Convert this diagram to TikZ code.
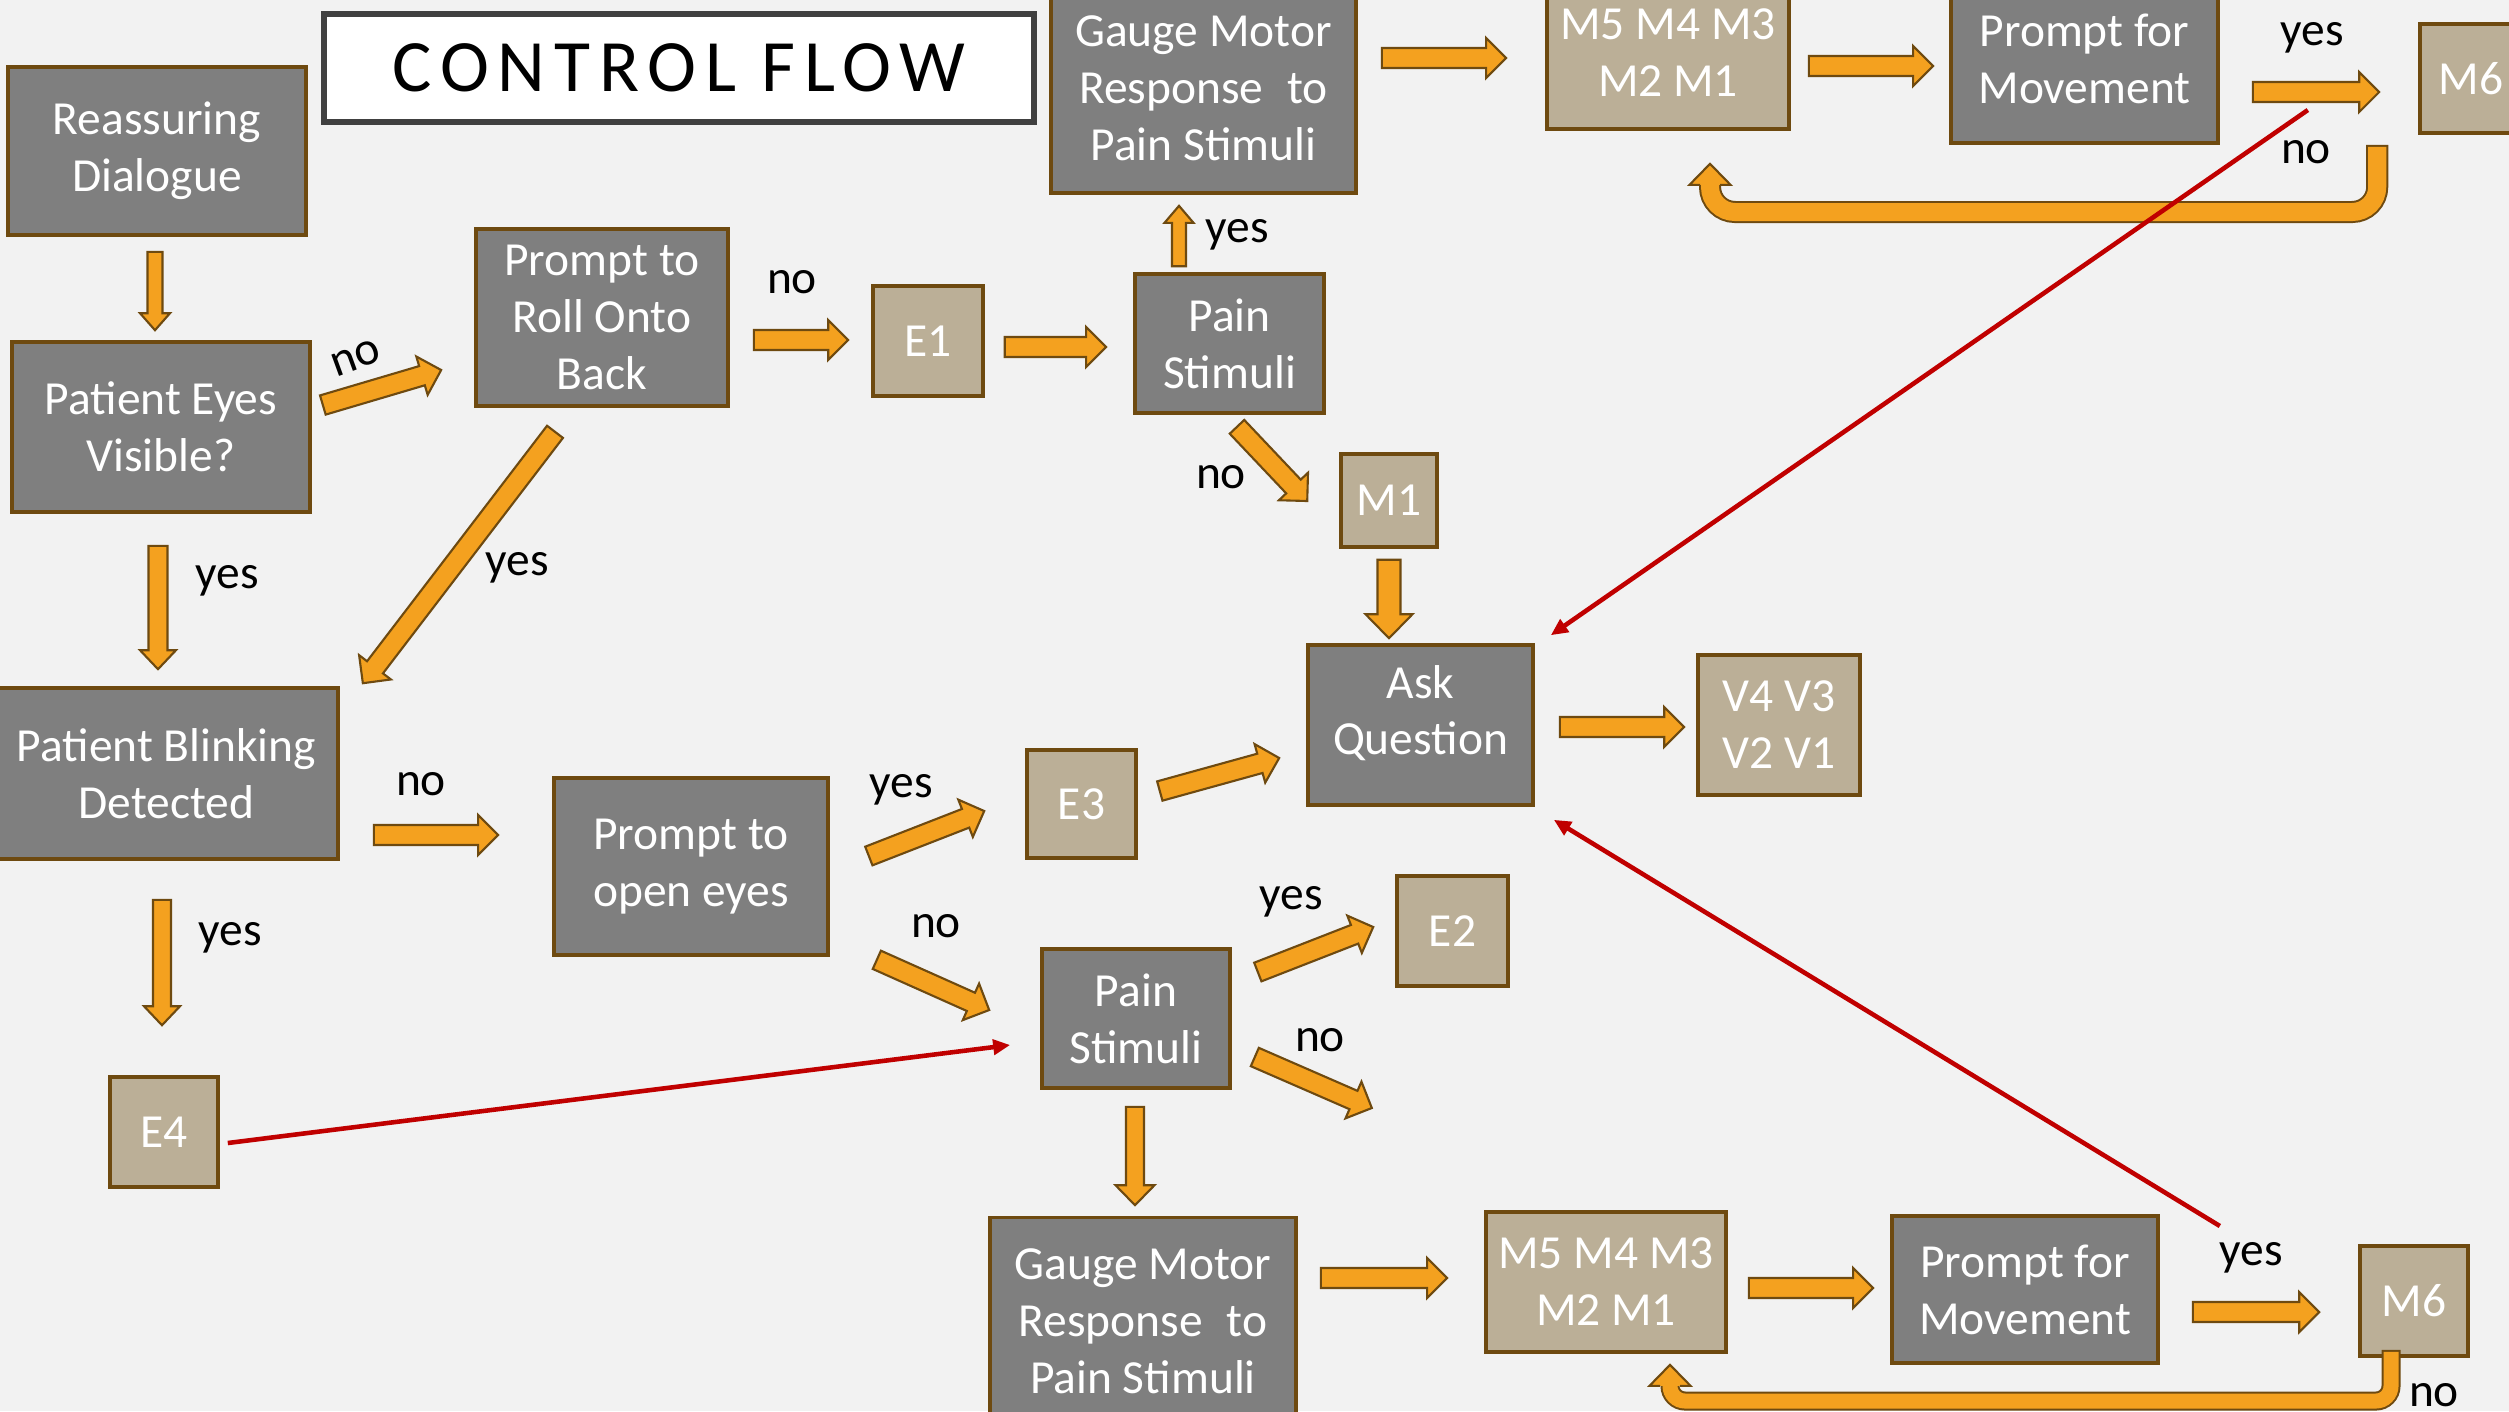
\documentclass[tikz,border=0pt]{standalone}
\usepackage{fontspec}
\setmainfont{Carlito}
\usetikzlibrary{calc,arrows.meta}
\definecolor{bg}{HTML}{F2F2F2}
\definecolor{darkbox}{HTML}{7F7F7F}
\definecolor{tanbox}{HTML}{BBAF97}
\definecolor{boxline}{HTML}{6E4A10}
\definecolor{arrfill}{HTML}{F4A11F}
\definecolor{arrline}{HTML}{6E4A10}
\definecolor{redline}{HTML}{C00000}
\definecolor{titleline}{HTML}{404040}
\tikzset{
 box/.style={draw=boxline, line width=1pt, inner sep=0pt, align=center, text=white, font=\fontsize{13.5}{16.2}\selectfont},
 dbox/.style={box, fill=darkbox},
 tbox/.style={box, fill=tanbox},
 lbl/.style={font=\fontsize{13.5}{16}\selectfont, text=black, inner sep=0pt},
 blockarrow/.style={fill=arrfill, draw=arrline, line width=0.6pt, line join=miter},
 redarrow/.style={draw=redline, line width=1.3pt, -{Triangle[length=0.17cm,width=0.15cm]}},
}
\newcommand\barrow[5]{%
 \coordinate (bas) at (#1);
 \coordinate (bae) at (#2);
 \coordinate (bah) at ($(bae)!#5!(bas)$);
 \filldraw[blockarrow] ($(bas)!#3!90:(bae)$) -- ($(bah)!#3!-90:(bas)$) -- ($(bah)!#4!-90:(bas)$) -- (bae) -- ($(bah)!#4!90:(bas)$) -- ($(bah)!#3!90:(bas)$) -- ($(bas)!#3!-90:(bae)$) -- cycle;
}
\newcommand\barr[2]{\barrow{#1}{#2}{0.1cm}{0.2cm}{0.2cm}}
% #1 start, #2 tip, #3 level, #4 inner width, #5 outer width, #6 radius
\newcommand\uturn[6]{%
 \coordinate (us) at (#1); \coordinate (ut) at (#2); \coordinate (ul) at (#3);
 \coordinate (ub) at ([shift={(0,21)}]ut);
 \coordinate (ue) at ([shift={(0,16)}]ut);
 \draw[arrline, line width=#5, rounded corners=#6] (us) -- (us |- ul) -- (ut |- ul) -- (ue);
 \draw[arrfill, line width=#4, rounded corners=#6, shorten <=0.02cm] (us) -- (us |- ul) -- (ut |- ul) -- (ue);
 \fill[arrfill] ([shift={(-20.5,0)}]ub) -- (ut) -- ([shift={(20.5,0)}]ub) -- cycle;
 \draw[arrline, line width=0.6pt, line join=miter] ([shift={(-10,0)}]ub) -- ([shift={(-20.5,0)}]ub) -- (ut) -- ([shift={(20.5,0)}]ub) -- ([shift={(10,0)}]ub);
}
\begin{document}
\begin{tikzpicture}[x=0.01cm,y=-0.01cm]
\path[use as bounding box] (0,0) rectangle (2509,1411);
\clip (0,0) rectangle (2509,1411);
\fill[bg] (0,0) rectangle (2509,1411);

% title
\node[draw=titleline, line width=1.7pt, fill=white, minimum width=7.1cm, minimum height=1.08cm, inner sep=0pt,
      font=\fontsize{21}{25}\selectfont\addfontfeature{LetterSpace=12}] (title) at (679,68) {CONTROL FLOW};

% boxes
\node[dbox, minimum width=2.98cm, minimum height=1.68cm] (reass) at (157,151) {Reassuring\\Dialogue};
\node[dbox, minimum width=2.98cm, minimum height=1.70cm] (eyes) at (161,427) {Patient Eyes\\Visible?};
\node[dbox, minimum width=2.52cm, minimum height=1.77cm] (roll) at (602,317.5) {Prompt to\\Roll Onto\\Back};
\node[tbox, minimum width=1.10cm, minimum height=1.10cm] (e1) at (928,341) {E1};
\node[dbox, minimum width=3.05cm, minimum height=2.10cm] (gaugeT) at (1203.5,88) {Gauge Motor\\Response\enspace to\\Pain Stimuli};
\node[tbox, minimum width=2.42cm, minimum height=1.52cm] (m5T) at (1668,53) {M5 M4 M3\\M2 M1};
\node[dbox, minimum width=2.67cm, minimum height=1.68cm] (promptT) at (2084.5,59) {Prompt for\\Movement};
\node[tbox, minimum width=1.02cm, minimum height=1.09cm] (m6T) at (2471,78.5) {M6};
\node[dbox, minimum width=1.89cm, minimum height=1.39cm] (painT) at (1229.5,343.5) {Pain\\Stimuli};
\node[tbox, minimum width=0.96cm, minimum height=0.93cm] (m1) at (1389,500.5) {M1};
\node[dbox, minimum width=2.25cm, minimum height=1.60cm, text depth=0.3cm] (ask) at (1420.5,725) {Ask\\Question};
\node[tbox, minimum width=1.62cm, minimum height=1.40cm] (v4) at (1779,725) {V4 V3\\V2 V1};
\node[dbox, minimum width=3.43cm, minimum height=1.71cm] (blink) at (166.5,773.5) {Patient Blinking\\Detected};
\node[dbox, minimum width=2.74cm, minimum height=1.77cm] (openeyes) at (691,866.5) {Prompt to\\open eyes};
\node[tbox, minimum width=1.09cm, minimum height=1.08cm] (e3) at (1081.5,804) {E3};
\node[tbox, minimum width=1.11cm, minimum height=1.10cm] (e2) at (1452.5,931) {E2};
\node[dbox, minimum width=1.88cm, minimum height=1.39cm] (painB) at (1136,1018.5) {Pain\\Stimuli};
\node[tbox, minimum width=1.08cm, minimum height=1.10cm] (e4) at (164,1132) {E4};
\node[dbox, minimum width=3.06cm, minimum height=2.07cm] (gaugeB) at (1143,1321) {Gauge Motor\\Response\enspace to\\Pain Stimuli};
\node[tbox, minimum width=2.40cm, minimum height=1.40cm] (m5B) at (1606,1282) {M5 M4 M3\\M2 M1};
\node[dbox, minimum width=2.66cm, minimum height=1.47cm] (promptB) at (2025,1289.5) {Prompt for\\Movement};
\node[tbox, minimum width=1.08cm, minimum height=1.10cm] (m6B) at (2414,1301) {M6};

% block arrows
\barrow{[shift={(-2,15)}]reass.south}{[shift={(-6,-10)}]eyes.north}{0.075cm}{0.15cm}{0.17cm}
\barr{[shift={(11,-22)}]eyes.east}{[shift={(-33,52.5)}]roll.west}
\barr{[shift={(24,22.5)}]roll.east}{[shift={(-23,-1)}]e1.west}
\barr{[shift={(20,6)}]e1.east}{[shift={(-27,3.5)}]painT.west}
\barrow{[shift={(-50.5,-6)}]painT.north}{[shift={(-24.5,11)}]gaugeT.south}{0.07cm}{0.145cm}{0.17cm}
\barr{[shift={(7.5,12)}]painT.south}{[shift={(-32,0.5)}]m1.west}
\barr{[shift={(24,-30)}]gaugeT.east}{[shift={(-39,5)}]m5T.west}
\barr{[shift={(18,13)}]m5T.east}{[shift={(-16,7)}]promptT.west}
\barr{[shift={(33,33)}]promptT.east}{[shift={(-39,13.5)}]m6T.west}
\barrow{[shift={(0,11)}]m1.south}{[shift={(-31.5,-5)}]ask.north}{0.115cm}{0.235cm}{0.24cm}
\barr{[shift={(25,2)}]ask.east}{[shift={(-12,2)}]v4.west}
\barr{[shift={(22,-13)}]e3.east}{[shift={(-27,33)}]ask.west}
\barrow{[shift={(-3,32)}]eyes.south}{[shift={(-8.5,-17)}]blink.north}{0.095cm}{0.18cm}{0.19cm}
\barr{[shift={(-47,24)}]roll.south}{[shift={(23,-3)}]blink.north east}
\barr{[shift={(34,61.5)}]blink.east}{[shift={(-54,-31.5)}]openeyes.west}
\barrow{[shift={(-4.5,39)}]blink.south}{[shift={(-2,-50)}]e4.north}{0.09cm}{0.18cm}{0.19cm}
\barr{[shift={(39,-10.5)}]openeyes.east}{[shift={(-41,7)}]e3.west}
\barr{[shift={(47,3)}]openeyes.south east}{[shift={(-51,-8.5)}]painB.west}
\barr{[shift={(26,-46.5)}]painB.east}{[shift={(-22,-4)}]e2.west}
\coordinate (dangle) at ([shift={(140,89.5)}]painB.east);
\barr{[shift={(23,38.5)}]painB.east}{dangle}
\barrow{[shift={(-1,17)}]painB.south}{[shift={(-8,-10.5)}]gaugeB.north}{0.09cm}{0.195cm}{0.2cm}
\barr{[shift={(23,-43)}]gaugeB.east}{[shift={(-37,-4)}]m5B.west}
\barr{[shift={(21,6)}]m5B.east}{[shift={(-17,-1.5)}]promptB.west}
\barr{[shift={(33,22.5)}]promptB.east}{[shift={(-39,11)}]m6B.west}

% u-turn arrows
\uturn{[shift={(-41,10)}]m6T.south west}{[shift={(42,33)}]m5T.south}{0,212}{0.18cm}{0.22cm}{0.25cm}
\uturn{[shift={(-23,-8)}]m6B.south}{[shift={(64,11)}]m5B.south}{0,1401}{0.15cm}{0.19cm}{0.15cm}

% red connectors
\coordinate (r1s) at ([shift={(88,51)}]promptT.east);
\coordinate (r2s) at ([shift={(60,-63.5)}]promptB.east);
\draw[redarrow] (r1s) -- ([shift={(16,-8)}]ask.north east);
\draw[redarrow] (r2s) -- ([shift={(19,13)}]ask.south east);
\draw[redarrow] ([shift={(8,11)}]e4.east) -- ([shift={(-30,26.5)}]painB.west);

% labels
\node[lbl, rotate=20] (l1) at (356,358) {no};
\node[lbl] (l2) at (792,282) {no};
\node[lbl] (l3) at (1237,235) {yes};
\node[lbl] (l4) at (1221,477) {no};
\node[lbl] (l5) at (2312,38) {yes};
\node[lbl] (l6) at (2306,152) {no};
\node[lbl] (l7) at (227,581) {yes};
\node[lbl] (l8) at (517,568) {yes};
\node[lbl] (l9) at (421,784) {no};
\node[lbl] (l10) at (230,938) {yes};
\node[lbl] (l11) at (901,790) {yes};
\node[lbl] (l12) at (936,926) {no};
\node[lbl] (l13) at (1291,902) {yes};
\node[lbl] (l14) at (1320,1040) {no};
\node[lbl] (l15) at (2251,1258) {yes};
\node[lbl] (l16) at (2434,1395) {no};
\end{tikzpicture}
\end{document}
